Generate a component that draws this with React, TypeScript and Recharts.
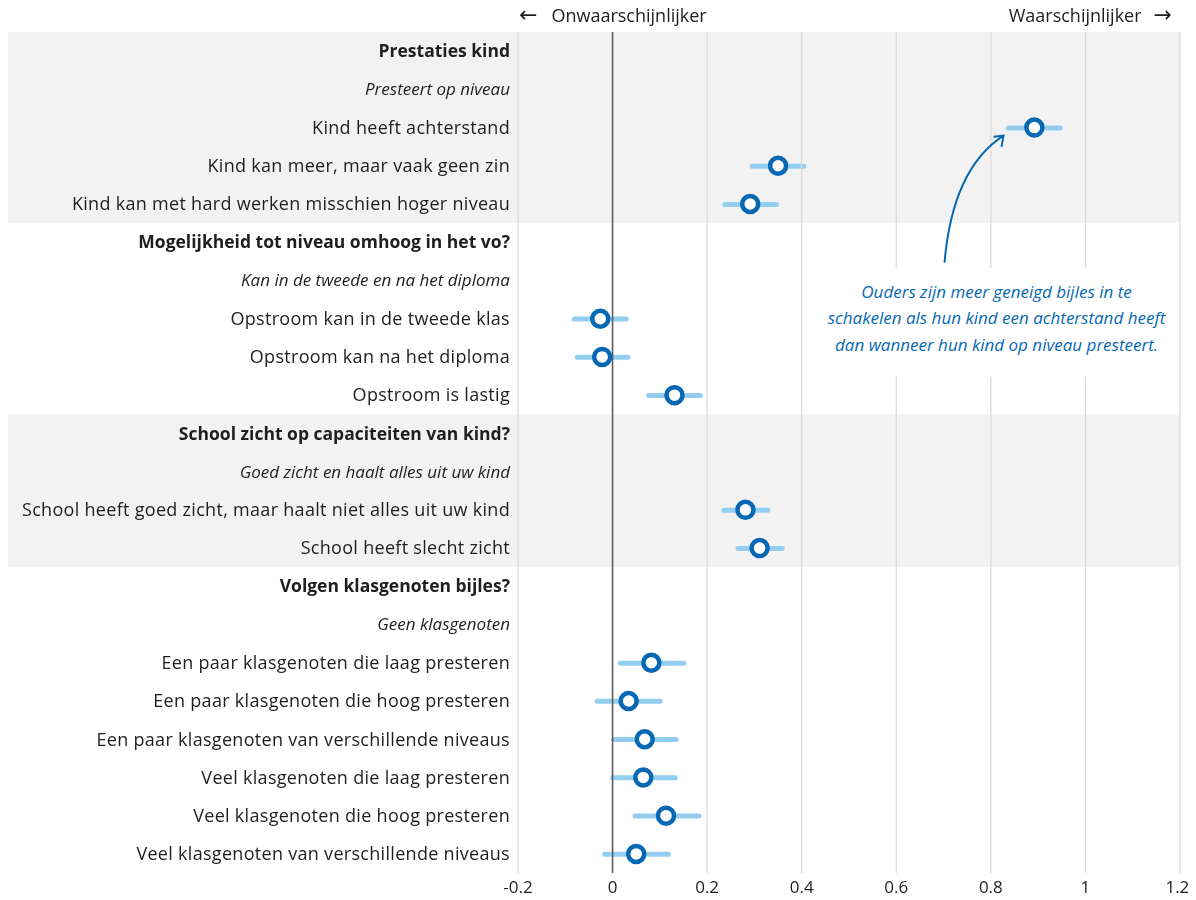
import React from "react";
import {
  ComposedChart,
  Bar,
  Line,
  XAxis,
  YAxis,
  ReferenceArea,
  ReferenceLine,
  ReferenceDot,
} from "recharts";

const categories = [
  "Prestaties kind",
  "Presteert op niveau",
  "Kind heeft achterstand",
  "Kind kan meer, maar vaak geen zin",
  "Kind kan met hard werken misschien hoger niveau",
  "Mogelijkheid tot niveau omhoog in het vo?",
  "Kan in de tweede en na het diploma",
  "Opstroom kan in de tweede klas",
  "Opstroom kan na het diploma",
  "Opstroom is lastig",
  "School zicht op capaciteiten van kind?",
  "Goed zicht en haalt alles uit uw kind",
  "School heeft goed zicht, maar haalt niet alles uit uw kind",
  "School heeft slecht zicht",
  "Volgen klasgenoten bijles?",
  "Geen klasgenoten",
  "Een paar klasgenoten die laag presteren",
  "Een paar klasgenoten die hoog presteren",
  "Een paar klasgenoten van verschillende niveaus",
  "Veel klasgenoten die laag presteren",
  "Veel klasgenoten die hoog presteren",
  "Veel klasgenoten van verschillende niveaus",
];

const headerRows = [
  "Prestaties kind",
  "Mogelijkheid tot niveau omhoog in het vo?",
  "School zicht op capaciteiten van kind?",
  "Volgen klasgenoten bijles?",
];

const referenceRows = [
  "Presteert op niveau",
  "Kan in de tweede en na het diploma",
  "Goed zicht en haalt alles uit uw kind",
  "Geen klasgenoten",
];

// point estimates; null = header or reference level
const estimate = [
  null, null, 0.892, 0.35, 0.291,
  null, null, -0.026, -0.022, 0.131,
  null, null, 0.281, 0.311,
  null, null, 0.082, 0.034, 0.068, 0.065, 0.113, 0.05,
];

const ciLow = [
  null, null, 0.832, 0.29, 0.232,
  null, null, -0.086, -0.08, 0.071,
  null, null, 0.23, 0.26,
  null, null, 0.011, -0.038, -0.003, -0.005, 0.042, -0.022,
];

const ciHigh = [
  null, null, 0.952, 0.41, 0.352,
  null, null, 0.034, 0.038, 0.191,
  null, null, 0.334, 0.364,
  null, null, 0.156, 0.106, 0.14, 0.138, 0.188, 0.123,
];

const shadedGroups = [
  ["Prestaties kind", "Kind kan met hard werken misschien hoger niveau"],
  ["School zicht op capaciteiten van kind?", "School heeft slecht zicht"],
];

const xTicks = [-0.2, 0, 0.2, 0.4, 0.6, 0.8, 1, 1.2];

const annotationLines = [
  "Ouders zijn meer geneigd bijles in te",
  "schakelen als hun kind een achterstand heeft",
  "dan wanneer hun kind op niveau presteert.",
];

const FONT = "'Open Sans', sans-serif";
const ARROW_FONT = "'DejaVu Sans', sans-serif";
const TEXT = "#1e1e1e";
const BLUE = "#0668b3";
const LIGHT_BLUE = "#93cef1";

const data = categories.map((label, i) => ({
  label,
  est: estimate[i],
  ci: ciLow[i] == null ? null : [ciLow[i], ciHigh[i]],
}));

const CategoryTick = (props: any) => {
  const { x, y, payload } = props;
  const label = payload.value;
  const isHeader = headerRows.includes(label);
  const isRef = referenceRows.includes(label);
  return (
    <text
      x={x}
      y={y}
      dy="0.35em"
      textAnchor="end"
      fontFamily={FONT}
      fontSize={isHeader ? 17.5 : isRef ? 17 : 18}
      letterSpacing={isHeader || isRef ? 0 : 0.3}
      fontWeight={isHeader ? 700 : 400}
      fontStyle={isRef ? "italic" : "normal"}
      fill={TEXT}
    >
      {label}
    </text>
  );
};

const BandShape = (props: any) => (
  <rect x={0} y={props.y} width={props.x + props.width} height={props.height} fill="#f2f2f2" />
);

const Annotation = (props: any) => {
  const { cx, cy } = props;
  return (
    <g>
      <rect x={cx - 185} y={cy - 51} width={360} height={109} fill="#fff" />
      <path
        d={`M${cx - 52} ${cy - 56} Q${cx - 44} ${cy - 150} ${cx + 7} ${cy - 183}`}
        fill="none"
        stroke={BLUE}
        strokeWidth={2}
      />
      <path
        d={`M${cx - 3} ${cy - 182} L${cx + 7} ${cy - 183} L${cx + 5} ${cy - 172}`}
        fill="none"
        stroke={BLUE}
        strokeWidth={2}
      />
      {annotationLines.map((line, i) => (
        <text
          key={line}
          x={cx}
          y={cy - 27 + i * 26.5}
          dy="0.35em"
          textAnchor="middle"
          fontFamily={FONT}
          fontSize={17}
          fontStyle="italic"
          fill={BLUE}
        >
          {line}
        </text>
      ))}
    </g>
  );
};

const TopLabel = (text: string, anchor: "start" | "end") => (props: any) => {
  const { viewBox } = props;
  const left = anchor === "start";
  return (
    <text
      x={left ? viewBox.x + 1 : viewBox.x - 8}
      y={viewBox.y - 16}
      dy="0.35em"
      textAnchor={anchor}
      fontFamily={FONT}
      fontSize={18}
      fill={TEXT}
    >
      {left ? (
        <>
          <tspan fontFamily={ARROW_FONT} fontSize={22}>{"\u2190"}</tspan>
          <tspan dx={14}>{text}</tspan>
        </>
      ) : (
        <>
          <tspan>{text}</tspan>
          <tspan dx={12} fontFamily={ARROW_FONT} fontSize={22}>{"\u2192"}</tspan>
        </>
      )}
    </text>
  );
};

export default function App() {
  return (
    <div style={{ position: "fixed", left: 8, top: 0 }}>
      <ComposedChart
        width={1180}
        height={900}
        data={data}
        layout="vertical"
        margin={{ top: 32, right: 8, bottom: 0, left: 0 }}
      >
        {shadedGroups.map(([from, to]) => (
          <ReferenceArea key={from} y1={from} y2={to} shape={BandShape} ifOverflow="visible" />
        ))}
        {xTicks.map((t) => (
          <ReferenceLine
            key={t}
            x={t}
            stroke={t === 0 ? "#555" : "#dadada"}
            strokeWidth={t === 0 ? 1.5 : 1.3}
            label={
              t === -0.2
                ? TopLabel("Onwaarschijnlijker", "start")
                : t === 1.2
                ? TopLabel("Waarschijnlijker", "end")
                : undefined
            }
          />
        ))}
        <ReferenceDot x={0.812} y="Opstroom kan in de tweede klas" shape={Annotation} />
        <XAxis
          type="number"
          domain={[-0.2, 1.2]}
          ticks={xTicks}
          allowDataOverflow
          axisLine={false}
          tickLine={false}
          height={27}
          tick={{ fill: TEXT, fontSize: 17, fontFamily: FONT }}
        />
        <YAxis
          type="category"
          dataKey="label"
          width={510}
          interval={0}
          axisLine={false}
          tickLine={false}
          tick={<CategoryTick />}
        />
        <Bar dataKey="ci" barSize={5} fill={LIGHT_BLUE} radius={2.5} isAnimationActive={false} />
        <Line
          dataKey="est"
          stroke="none"
          dot={{ r: 8, stroke: BLUE, strokeWidth: 4.5, fill: "#fff" }}
          activeDot={false}
          isAnimationActive={false}
        />
      </ComposedChart>
    </div>
  );
}
